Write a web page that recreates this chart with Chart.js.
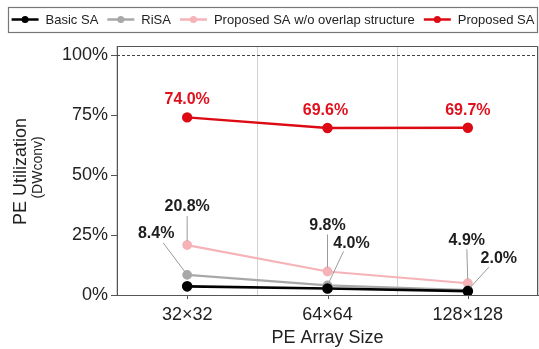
<!DOCTYPE html>
<html>
<head>
<meta charset="utf-8">
<script src="https://cdn.jsdelivr.net/npm/chart.js@4/dist/chart.umd.min.js"></script>
<style>
  html, body { margin: 0; padding: 0; background: #fff; }
  #wrap { width: 539px; height: 349px; }
</style>
</head>
<body>
<div id="wrap"><canvas id="c" width="539" height="349"></canvas></div>
<script>
// PE utilization on depthwise convolution for each systolic-array size
const arraySizes = ['32×32', '64×64', '128×128'];
const basicSA = [3.6, 2.7, 1.6];
const riSA = [8.4, 4.0, 2.0];
const proposedNoOverlap = [20.8, 9.8, 4.9];
const proposedSA = [74.0, 69.6, 69.7];
const yTickValues = [0, 25, 50, 75, 100];

const FONT = '"Liberation Sans", Arial, Helvetica, sans-serif';
const FRAME = '#555';

// Where each value callout sits relative to its point, and its leader line
// [datasetIndex, pointIndex, dx, dy, leaderFromX, leaderFromY] (leader offsets from label centre)
const callouts = [
  [3, 0, 0, -18, null, null],
  [3, 1, -2, -17, null, null],
  [3, 2, 0, -17, null, null],
  [2, 0, 0, -38, 0, 9],
  [1, 0, -31, -41, 7, 9],
  [2, 1, 0, -46, 0, 9],
  [1, 1, 24, -42, -8, 8],
  [2, 2, -1, -43, 0, 9],
  [1, 2, 31, -32, -10, 9]
];

const framePlugin = {
  id: 'frame',
  beforeDatasetsDraw(chart) {
    const { ctx, chartArea: a, scales: { x, y } } = chart;
    ctx.save();
    // dashed 100% reference line
    const y100 = Math.round(y.getPixelForValue(100)) + 0.5;
    ctx.strokeStyle = '#444';
    ctx.lineWidth = 1;
    ctx.setLineDash([3, 2]);
    ctx.beginPath();
    ctx.moveTo(a.left, y100);
    ctx.lineTo(a.right, y100);
    ctx.stroke();
    ctx.setLineDash([]);
    // top and right edges of the plot frame
    ctx.strokeStyle = FRAME;
    ctx.lineWidth = 1;
    ctx.beginPath();
    ctx.moveTo(a.left, a.top + 0.5);
    ctx.lineTo(a.right - 0.5, a.top + 0.5);
    ctx.lineTo(a.right - 0.5, a.bottom);
    ctx.stroke();
    // short tick marks under each category
    ctx.beginPath();
    arraySizes.forEach((_, i) => {
      const px = Math.round(x.getPixelForValue(i)) + 0.5;
      ctx.moveTo(px, a.bottom);
      ctx.lineTo(px, a.bottom + 4);
    });
    ctx.stroke();
    ctx.restore();
  }
};

const yTitlePlugin = {
  id: 'yTitle',
  afterDraw(chart) {
    const { ctx, chartArea: a } = chart;
    const cy = (a.top + a.bottom) / 2;
    ctx.save();
    ctx.fillStyle = '#222';
    ctx.textAlign = 'center';
    ctx.textBaseline = 'middle';
    ctx.translate(21, cy + 1);
    ctx.rotate(-Math.PI / 2);
    ctx.font = '18px ' + FONT;
    ctx.fillText('PE Utilization', 0, 0);
    ctx.restore();
    ctx.save();
    ctx.fillStyle = '#222';
    ctx.textAlign = 'center';
    ctx.textBaseline = 'middle';
    ctx.translate(38, cy - 3);
    ctx.rotate(-Math.PI / 2);
    ctx.font = '14px ' + FONT;
    ctx.fillText('(DWconv)', 0, 0);
    ctx.restore();
  }
};

const legendPlugin = {
  id: 'boxLegend',
  afterDraw(chart) {
    const { ctx } = chart;
    const sets = chart.data.datasets;
    const sample = 27, gapText = 7, gapItem = 9, cy = 19.5;
    const boxL = 8, boxR = chart.width - 1;
    ctx.save();
    ctx.font = '13px ' + FONT;
    const widths = sets.map(ds => ctx.measureText(ds.label).width);
    const total = widths.reduce((s, w) => s + sample + gapText + w, 0) + gapItem * (sets.length - 1);
    let x = (boxL + boxR - total) / 2;
    ctx.strokeStyle = '#777';
    ctx.lineWidth = 1.2;
    ctx.strokeRect(boxL + 0.5, 7.5, boxR - boxL - 1, 25);
    sets.forEach((ds, i) => {
      ctx.strokeStyle = ds.borderColor;
      ctx.fillStyle = ds.borderColor;
      ctx.lineWidth = 2.5;
      ctx.beginPath();
      ctx.moveTo(x, cy);
      ctx.lineTo(x + sample, cy);
      ctx.stroke();
      ctx.beginPath();
      ctx.arc(x + sample / 2, cy, 3.5, 0, Math.PI * 2);
      ctx.fill();
      x += sample + gapText;
      ctx.fillStyle = '#222';
      ctx.textAlign = 'left';
      ctx.textBaseline = 'middle';
      ctx.fillText(ds.label, x, cy + 0.5);
      x += widths[i] + gapItem;
    });
    ctx.restore();
  }
};

const calloutPlugin = {
  id: 'callouts',
  afterDatasetsDraw(chart) {
    const { ctx } = chart;
    ctx.save();
    ctx.font = 'bold 16px ' + FONT;
    ctx.textAlign = 'center';
    ctx.textBaseline = 'middle';
    callouts.forEach(([di, pi, dx, dy, lx, ly]) => {
      const pt = chart.getDatasetMeta(di).data[pi];
      const ds = chart.data.datasets[di];
      const tx = pt.x + dx, ty = pt.y + dy;
      if (lx !== null) {
        const sx = tx + lx, sy = ty + ly;
        const ang = Math.atan2(pt.y - sy, pt.x - sx);
        ctx.strokeStyle = '#9a9a9a';
        ctx.lineWidth = 1;
        ctx.beginPath();
        ctx.moveTo(sx, sy);
        ctx.lineTo(pt.x - Math.cos(ang) * 4, pt.y - Math.sin(ang) * 4);
        ctx.stroke();
      }
      ctx.fillStyle = di === 3 ? '#e0101c' : '#1e1e1e';
      ctx.fillText(ds.data[pi].toFixed(1) + '%', tx, ty);
    });
    ctx.restore();
  }
};

function series(label, data, color, width, radius) {
  return {
    label, data,
    borderColor: color,
    backgroundColor: color,
    pointBackgroundColor: color,
    pointBorderColor: color,
    borderWidth: width,
    pointRadius: radius,
    pointHoverRadius: radius,
    tension: 0
  };
}

new Chart(document.getElementById('c'), {
  type: 'line',
  data: {
    labels: arraySizes,
    datasets: [
      series('Basic SA', basicSA, '#000000', 2.6, 4),
      series('RiSA', riSA, '#a8a8a8', 2.2, 3.8),
      series('Proposed SA w/o overlap structure', proposedNoOverlap, '#f5b3b7', 2.2, 3.8),
      series('Proposed SA', proposedSA, '#dd0a14', 2.4, 4)
    ]
  },
  options: {
    responsive: false,
    animation: false,
    devicePixelRatio: 1,
    layout: { autoPadding: false, padding: { top: 46, right: 1, left: 0, bottom: 0 } },
    plugins: {
      legend: { display: false },
      tooltip: { enabled: false }
    },
    scales: {
      x: {
        offset: true,
        grid: { offset: true, color: '#d2d2d2', lineWidth: 1, drawTicks: false },
        border: { color: FRAME, width: 1 },
        ticks: { font: { family: FONT, size: 18 }, color: '#222', padding: 9 },
        title: {
          display: true, text: 'PE Array Size',
          font: { family: FONT, size: 18, lineHeight: 1.2 }, color: '#222',
          padding: { top: 0, bottom: 0 }
        },
        afterFit(s) { s.height = 54; s.paddingLeft = 0; s.paddingRight = 0; }
      },
      y: {
        min: 0,
        max: 103.75,
        afterBuildTicks(s) { s.ticks = yTickValues.map(v => ({ value: v })); },
        grid: { drawOnChartArea: false, drawTicks: true, tickLength: 6, color: FRAME },
        border: { color: FRAME, width: 1 },
        ticks: {
          font: { family: FONT, size: 18 }, color: '#222', padding: 3,
          callback: v => v + '%'
        },
        afterFit(s) { s.width = 117; s.paddingTop = 0; s.paddingBottom = 0; }
      }
    }
  },
  plugins: [framePlugin, yTitlePlugin, legendPlugin, calloutPlugin]
});
</script>
</body>
</html>
